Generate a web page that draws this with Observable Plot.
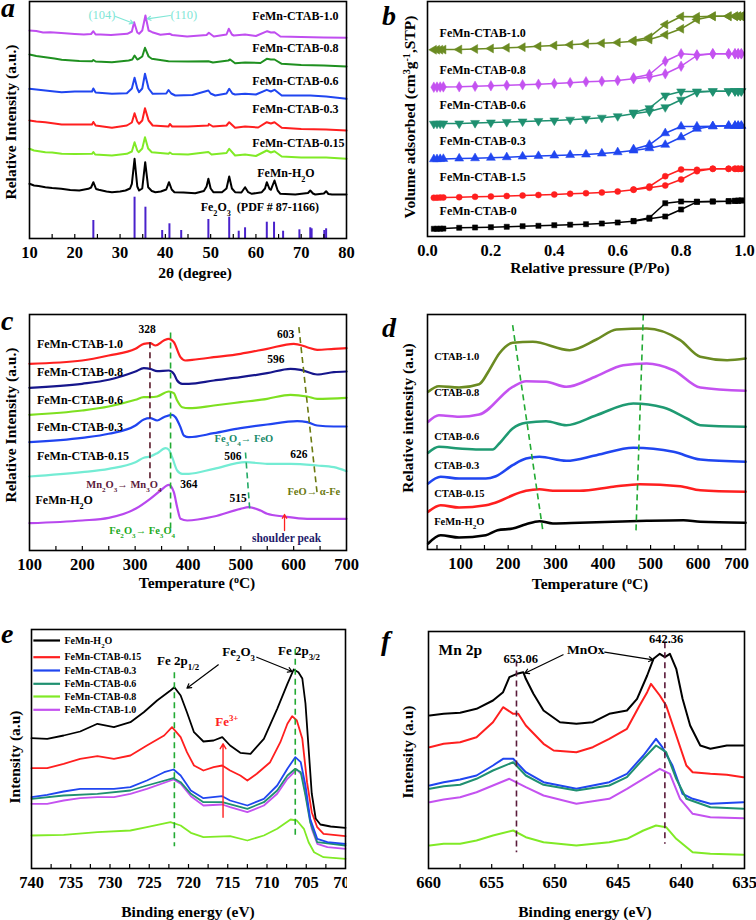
<!DOCTYPE html>
<html><head><meta charset="utf-8">
<script src="https://cdn.jsdelivr.net/npm/d3@7"></script>
<script src="https://cdn.jsdelivr.net/npm/@observablehq/plot@0.6"></script>
<style>
body{margin:0;background:#fff;}
#root{position:relative;width:756px;height:920px;overflow:hidden;background:#fff;font-family:"Liberation Serif","Times New Roman",serif;}
.lbl{position:absolute;font-weight:bold;font-size:15.5px;white-space:nowrap;line-height:1;color:#000;}
.ylbl{transform:translate(-50%,-50%) rotate(-90deg);}
.xlbl{transform:translate(-50%,-50%);}
.letter{position:absolute;font-weight:bold;font-style:italic;font-size:28px;line-height:0.5;color:#000;}
sup{font-size:65%;vertical-align:0.55em;line-height:0;}
</style></head>
<body><div id="root"></div>
<script>
// ---------------- DATA ----------------
// (a) XRD, 2θ vs intensity (arbitrary, stacked)
const aTicks=[10,20,30,40,50,60,70,80];
const xrdH2O=[[10,54.7],[11,53],[12,52.5],[13.5,51.3],[15,50.5],[17,49.7],[19,48.5],[21,48],[23,49.7],[23.6,51],[24.1,56.3],[24.7,49.5],[25.3,48.7],[27,47],[28.2,46.3],[30,47],[31.2,48],[32.2,50],[32.6,54.7],[33.2,79.7],[33.8,52],[34.2,48],[34.9,50],[35.55,76.3],[36.2,51.3],[37,47.5],[37.8,46.3],[39,47],[40.2,49],[40.8,56.3],[41.4,49],[42,46.3],[44,46],[46.6,45.3],[48.5,47.5],[49.1,52],[49.5,59.7],[50,50],[50.6,46.3],[52.5,46.3],[53.5,50],[54.1,62],[54.7,50],[55.4,46.3],[56.8,46],[57.6,51.3],[58.3,46.3],[59.1,44.7],[61.3,46.3],[62,50],[62.4,56.3],[63,49.5],[63.3,48.7],[64.1,58],[64.8,48],[65.4,44.7],[68.7,44],[71.5,45.5],[72,48],[72.6,45],[73.1,44],[75,45],[75.5,47.3],[76,44.5],[76.8,44],[80,44]];
const xrd015=[[10,89.7],[11,88],[13.5,86.3],[15,86],[17.1,84.7],[20,84.5],[23.8,84.7],[24.1,86.5],[24.5,84],[28.2,83],[31.5,84.7],[32.6,87],[33.2,96.3],[33.8,88],[34.1,86.3],[34.9,90],[35.5,101.3],[36.2,90],[37,86.3],[40.7,84.7],[41,86],[41.5,84.5],[45,84],[49.5,86.5],[50.2,84],[53.5,85.5],[54.1,89.7],[55.4,83],[57.6,84],[60,82.5],[62.4,88],[63.3,86],[64.1,87.3],[65.7,82],[70,81],[75.5,81],[80,79.7]];
const xrd03=[[10,118],[11.5,117],[13.5,116.3],[15.5,115],[17.1,114],[20,114],[23.8,114],[24.1,116.5],[24.6,113],[28.2,110.7],[31.5,113],[32.6,116],[33.2,125.3],[33.8,117],[34.2,114.7],[34.9,118],[35.5,130.3],[36.3,118],[37.2,113],[40.7,112],[41,114.5],[41.5,112],[45,112],[49.5,113],[49.6,114.5],[50.5,112],[53.5,113],[54.1,116.3],[55.4,110.7],[57.6,112],[60.5,111],[62.4,116.3],[63.3,115],[64.1,116.3],[65.7,110.7],[70,109.5],[75.5,109],[80,108]];
const xrd06=[[10,149.7],[11.5,149],[13.5,148],[15.5,147],[17.1,146.3],[20,147],[23.8,147],[24.1,150],[24.6,146],[28.2,144.7],[31.5,145.3],[32.6,150],[33.2,160.7],[33.8,150],[34.2,146.3],[34.9,150],[35.5,164.7],[36.3,150],[37.2,144.7],[40.2,145],[40.7,148.5],[41.3,145],[42.2,143],[46,143.5],[49.5,148],[50,145],[51,143],[53.5,145],[54.1,149.7],[54.8,145],[55.4,144],[57.6,144.7],[60,144],[62.4,148.7],[63.3,147],[64.1,148.7],[65.7,143],[72,143],[75.5,142],[76.5,141.5],[80,139.7]];
const xrd08=[[10,184],[11.5,182.5],[13.5,181.3],[15.5,180],[17.1,178.7],[21,177.5],[23.8,177.3],[24.1,178.5],[24.6,177],[28.2,176.3],[31.9,178],[32.7,179],[33.2,183],[33.8,179],[34.1,179.7],[34.9,182],[35.5,190.7],[36.3,182],[37,179.7],[40.7,177.3],[45,177],[49.5,177.3],[50.5,176],[53.9,178],[54.3,179],[55.4,175.3],[57.6,176],[61,175.5],[62.4,179.7],[63.3,179],[64.1,179],[65.7,174.7],[70,173.5],[75,173],[80,172]];
const xrd10=[[10,208],[11.5,207.5],[13,206],[14.6,206.3],[17,205.5],[20,204.5],[22,204],[23.6,204.5],[24.1,207.3],[24.6,204],[25.7,204],[28,203.5],[31.6,204.7],[32.6,207],[33.1,216.3],[33.8,206],[34.2,204.7],[34.9,208],[35.6,223],[36.3,208],[37.1,206.3],[38.9,203.7],[41,204.7],[41.5,203.5],[44.8,202],[49.1,203.5],[49.6,205.7],[50.7,202],[53.5,204],[54,209.7],[54.7,204],[55.1,203],[57.6,204],[60,202.5],[62.5,207.3],[63.3,206],[64.1,206.3],[65.4,202],[70,201.5],[75,201],[80,200.7]];
const pdfLines=[[24.1,18],[33.2,41.3],[35.6,31.3],[39.3,8],[40.9,14.7],[43.5,8],[49.5,19],[54.1,21.3],[56.2,7.3],[57.6,10.7],[62.4,16.3],[64.0,16.3],[66.0,7.3],[69.6,8.7],[72.0,10.7],[72.3,9.7],[75.1,8],[75.5,9.7]];
const aSeries=[["FeMn-CTAB-1.0",xrd10,"#c04ef0"],["FeMn-CTAB-0.8",xrd08,"#1f9020"],["FeMn-CTAB-0.6",xrd06,"#2046f0"],["FeMn-CTAB-0.3",xrd03,"#ff1f1f"],["FeMn-CTAB-0.15",xrd015,"#80ea26"],["FeMn-H_{2}O",xrdH2O,"#000000"]];
const aLabels=[{t:"FeMn-CTAB-1.0",x:59.2,y:222},{t:"FeMn-CTAB-0.8",x:59.2,y:190.3},{t:"FeMn-CTAB-0.6",x:59.2,y:157.3},{t:"FeMn-CTAB-0.3",x:59.2,y:129.7},{t:"FeMn-CTAB-0.15",x:59.2,y:95.3},{t:"FeMn-H_{2}O",x:60.3,y:65.3},{t:"Fe_{2}O_{3}\u00a0\u00a0(PDF # 87-1166)",x:47.8,y:31.3}];
const aPlanes=[{t:"(104)",x:26.0,y:224},{t:"(110)",x:44.1,y:224}];
const aPlaneArrows=[{x1:29.0,y1:222,x2:32.9,y2:215.3},{x1:41.1,y1:223,x2:36.0,y2:219.7}];

// (b) N2 isotherms
const bTicks=[0,0.2,0.4,0.6,0.8,1.0];
const bPAds=[0.02,0.03,0.04,0.05,0.1,0.15,0.2,0.25,0.3,0.35,0.4,0.45,0.5,0.55,0.6,0.65,0.7,0.75,0.8,0.85,0.9,0.95,0.97,0.98,0.99];
const bPDes=[0.99,0.98,0.97,0.95,0.9,0.85,0.8,0.75,0.7,0.65];
const bAds0=[7.7,7.7,7.8,7.9,8.7,9.0,9.3,9.7,10.3,10.7,11.3,11.8,12.3,13.0,14.0,15.3,17.7,20.0,27.0,34.7,35.0,35.3,35.6,35.8,36.0];
const bDes0=[36.0,35.8,35.6,35.3,35.0,34.7,35.0,33.3,18.7,15.5];
const bAds15=[38.7,38.8,38.9,39.0,39.3,39.7,40.0,40.5,41.0,41.5,42.0,42.7,43.3,44.0,45.0,46.7,48.7,51.0,57.0,65.3,67.7,67.7,67.7,67.7,67.7];
const bDes15=[67.7,67.7,67.7,67.7,67.7,66.7,67.0,60.3,50.0,47.0];
const bAds03=[77.3,77.4,77.5,77.6,78.0,78.3,78.7,79.3,80.0,80.5,81.0,81.5,82.0,83.0,84.3,86.0,88.3,91.7,99.3,107.7,110.3,110.7,110.7,110.7,110.7];
const bDes03=[110.7,110.7,110.7,110.7,110.3,110.0,110.0,103.3,91.7,87.3];
const bAds06=[112.7,112.8,112.8,112.9,113.0,113.5,114.0,114.5,115.0,115.5,116.0,116.8,117.7,118.8,120.3,122.7,125.0,129.3,136.7,144.3,145.3,145.3,145.3,145.3,145.3];
const bDes06=[145.3,145.3,145.3,145.3,145.3,145.0,145.0,141.0,128.3,124.0];
const bAds08=[149.3,149.4,149.5,149.6,149.7,150.2,150.7,151.2,151.7,152.3,153.0,153.8,154.7,155.3,156.0,157.7,159.3,162.7,170.3,181.0,182.7,182.7,182.7,182.7,182.7];
const bDes08=[182.7,182.7,182.7,182.7,182.7,181.7,182.7,175.3,162.0,158.7];
const bAds10=[186.7,186.8,186.8,186.9,187.0,187.5,188.0,188.7,189.3,190.2,191.0,191.8,192.7,193.3,194.0,195.3,197.0,201.7,207.7,217.0,220.3,220.3,220.3,220.3,220.3];
const bDes10=[220.3,220.3,220.3,220.3,220.3,219.7,220.0,212.0,199.3,196.0];
const bLabels=[{t:"FeMn-CTAB-1.0",y:203},{t:"FeMn-CTAB-0.8",y:166},{t:"FeMn-CTAB-0.6",y:131},{t:"FeMn-CTAB-0.3",y:95},{t:"FeMn-CTAB-1.5",y:59},{t:"FeMn-CTAB-0",y:25}];

// (c) H2-TPR
const cTicks=[100,200,300,400,500,600,700];
const cH2O=[[100,27.3],[199.6,30],[250,32.7],[300.6,41.7],[328.4,51.7],[348,60],[363.7,65.7],[373.2,58.3],[379.5,43.3],[385.8,31.7],[398.4,30],[448.9,34],[499.4,41.7],[515.1,43.3],[537.2,40],[549.8,36.7],[581.4,34],[625.5,31.7],[700,31.7]];
const c015=[[100,74],[199.6,78.3],[250,81.7],[300.6,88.3],[316.4,92.7],[328.4,94],[341.6,97.3],[357.4,102.3],[363.7,100.7],[370,93.3],[379.5,80],[389,76.7],[401.6,76.7],[448.9,81.7],[508.8,88.3],[549.8,86.7],[594,86.7],[644.5,85],[676,83.3],[700,79.3]];
const c03=[[100,108.3],[199.6,112.7],[250,116.7],[300.6,125],[316.4,131],[328.4,132.3],[341.6,130],[354.2,133.3],[370,135.7],[376.3,133.3],[385.8,123.3],[392.1,115],[401.6,113.3],[448.9,117.3],[499.4,122.3],[549.8,126],[606.6,129.3],[625.5,128.3],[644.5,125],[676,124],[700,124]];
const c06=[[100,135.7],[199.6,140],[250,144],[300.6,150.7],[316.4,153.3],[328.4,153.3],[341.6,154],[363.7,159],[373.2,157.3],[379.5,150],[389,143.3],[401.6,142.3],[448.9,145],[499.4,148.3],[549.8,151.7],[594,155.7],[625.5,154],[644.5,151.7],[700,152.7]];
const c08=[[100,162.7],[199.6,166.7],[250,170.7],[300.6,179],[316.4,182.3],[328.4,181.7],[341.6,179.3],[363.7,180],[373.2,176.7],[379.5,170],[389,166.7],[401.6,166.7],[448.9,170],[499.4,173.3],[549.8,177.3],[594,181.7],[613,180.7],[644.5,176],[676,178.3],[700,179]];
const c10=[[100,186.7],[199.6,190],[250,195],[300.6,201.7],[316.4,206.7],[328.4,207.3],[338.5,205],[354.2,210],[363.7,211.7],[373.2,208.3],[385.8,193.3],[395.2,190],[407.9,190.7],[448.9,193.3],[499.4,196.7],[549.8,201.7],[600.3,206.7],[625.5,203.3],[644.5,200.7],[676,201.7],[700,202.3]];
const cSeries=[[c10,"#ff2020"],[c08,"#16168c"],[c06,"#7ee020"],[c03,"#2044f0"],[c015,"#74ecd4"],[cH2O,"#b848ee"]];
const cLabels=[{t:"FeMn-CTAB-1.0",x:114,y:206.7},{t:"FeMn-CTAB-0.8",x:114,y:178.3},{t:"FeMn-CTAB-0.6",x:114,y:150},{t:"FeMn-CTAB-0.3",x:114,y:123.3},{t:"FeMn-CTAB-0.15",x:114,y:94},{t:"FeMn-H_{2}O",x:111.4,y:50}];
const cPeaks=[{t:"328",x:322.7,y:220.7},{t:"603",x:584.6,y:215.7},{t:"596",x:566.3,y:190.7},{t:"506",x:484.9,y:94},{t:"626",x:609.8,y:96},{t:"364",x:401.6,y:65.7},{t:"515",x:495,y:51.7}];
const cNotes=[{t:"Fe_{3}O_{4}→ FeO",x:505.7,y:111.7,c:"#1a8a6a"},{t:"Mn_{2}O_{3}→ Mn_{3}O_{4}",x:278.6,y:65.7,c:"#5c1a3c"},{t:"FeO→ α-Fe",x:638.2,y:59,c:"#6b7a10"},{t:"Fe_{2}O_{3}→ Fe_{3}O_{4}",x:313.3,y:20,c:"#22aa22"}];
const cGuides=[{x1:328,y1:208.3,x2:328,y2:70,c:"#5a1a2a"},{x1:367,y1:218,x2:367,y2:21.7,c:"#22aa33"},{x1:508.8,y1:98,x2:517,y2:40,c:"#22aa66"},{x1:609.8,y1:223.3,x2:644.5,y2:56.7,c:"#6b7a10"}];

// (d) O2-TPD
const dTicks=[100,200,300,400,500,600,700];
const dH2O=[[31.5,6],[57.6,14.3],[96.5,12],[152.9,14.3],[177.6,19.3],[209.4,21],[237.6,25.3],[265.9,28.3],[294.1,26],[350.6,26.7],[421.2,27.7],[491.8,28.7],[569.4,29.3],[604.7,27.7],[700,26.7]];
const d015=[[31.5,37.7],[57.6,44.3],[96.5,42],[152.9,44.3],[181.2,48.3],[209.4,54.3],[237.6,58.7],[265.9,60.3],[294.1,58.7],[350.6,58.7],[421.2,62.7],[477.6,65.3],[562.4,63.3],[604.7,59.3],[700,57.7]];
const d03=[[31.5,66],[57.6,72.7],[96.5,71],[152.9,71],[174.1,73.3],[209.4,84.3],[237.6,91],[265.9,92.7],[322.4,88.7],[385.9,94.3],[463.5,101.7],[548.2,97.7],[604.7,90],[700,87.7]];
const d06=[[31.5,96.7],[54,102.7],[96.5,101],[138.8,100],[167.1,100],[181.2,106],[209.4,121],[237.6,126.7],[280,128.3],[322.4,124.3],[385.9,134.3],[463.5,146],[527.1,142],[576.5,131],[604.7,124.3],[700,122.7]];
const d08=[[31.5,127.7],[54,134.3],[96.5,132.7],[138.8,135],[209.4,162.7],[237.6,168.3],[280,167.7],[322.4,162.7],[385.9,173.3],[442.4,184.3],[491.8,186],[548.2,179.3],[604.7,162],[700,158.7]];
const d10=[[31.5,157.7],[54,163.3],[96.5,162],[138.8,165.3],[160,179.3],[181.2,196],[209.4,206.7],[251.8,207.7],[329.4,199.3],[385.9,210],[428.2,220],[491.8,221],[562.4,209.3],[604.7,192.7],[661.2,189.3],[700,191]];
const dSeries=[[d10,"#6b8b22"],[d08,"#c452f0"],[d06,"#1f9a72"],[d03,"#2046f0"],[d015,"#ff1f1f"],[dH2O,"#000000"]];
const dLabels=[{t:"CTAB-1.0",y:193.3},{t:"CTAB-0.8",y:157},{t:"CTAB-0.6",y:113.3},{t:"CTAB-0.3",y:83.7},{t:"CTAB-0.15",y:56},{t:"FeMn-H_{2}O",y:27.7}];
const dGuides=[{x1:209.4,y1:224.3,x2:272.9,y2:19.3},{x1:484.7,y1:235,x2:469.2,y2:17.7}];

// (e) XPS Fe 2p
const eTicks=[740,735,730,725,720,715,710,705,700];
const eH2O=[[740,130.3],[738,129.7],[735.9,133],[733.8,137],[731.6,144.7],[729.5,141.3],[727.4,146.3],[725.7,156.3],[724,168],[722.3,178],[721.8,181.3],[721,173],[720.2,156.3],[719.3,136.3],[718.1,127],[716.8,128],[715.7,131.3],[714.7,123],[713.4,115.7],[712.1,114.7],[710.4,129.7],[708.7,159.7],[707.4,184.7],[706.6,199],[706,196.3],[705.5,190],[705.1,165],[704.7,120],[704.3,75],[703.8,50],[703.2,44],[701.9,42],[700,40.7]];
const e015=[[740,100.3],[738,100.3],[735.9,104.7],[733.8,109.7],[731.6,112.3],[729.5,109.7],[727.4,113],[725.3,123],[723.1,133],[722.1,141.3],[721,131.3],[720.2,116.3],[719.3,103],[718.1,98],[716.8,101.3],[715.7,103],[714.7,98],[713.4,93],[712.5,88],[711.3,94.7],[709.6,106.3],[708.3,126.3],[707.4,144.7],[706.8,152.3],[706.2,148],[705.5,129.7],[704.9,86.3],[704.3,56.3],[703.6,41.3],[702.8,34.7],[700,32.3]];
const e03=[[740,71.3],[738,73.7],[735.9,77],[733.8,79.7],[731.6,79.7],[729.5,79.7],[727.4,81.3],[725.3,88],[723.1,96.3],[721.9,99],[721,93],[719.7,78],[718.1,70.3],[715.7,72.3],[714.7,68],[712.5,63],[710.4,69.7],[708.7,83],[707.4,99.7],[706.4,111.3],[705.7,106.3],[705.1,83],[704.5,49.7],[703.6,29.7],[702.3,26.3],[700,24.7]];
const e06=[[740,69.7],[735.9,73],[731.6,74.7],[727.4,78],[725.3,83],[721.9,90.3],[721,86.3],[719.7,74.7],[718.1,66.3],[715.7,66.3],[712.5,59.7],[710.4,66.3],[708.7,78],[707.4,93],[706.4,99.7],[705.7,96.3],[705.1,73],[704.5,46.3],[703.6,26.3],[700,23]];
const e08=[[740,33],[735.9,33.7],[731.6,36.3],[727.4,38],[725.3,41.3],[722.3,46.3],[721,43],[719.7,35.7],[718.1,31.3],[714.7,32.3],[712.5,28],[710.4,33],[708.7,39.7],[707,49],[706.2,48],[705.3,39.7],[704.7,26.3],[704,16.3],[702.8,11.3],[700,9.7]];
const e10=[[740,64.7],[738,64.7],[735.9,68],[733.8,70.3],[731.6,71.3],[729.5,71.3],[727.4,74.7],[725.3,79.7],[721.9,89],[721,84.7],[719.7,72.3],[718.1,63],[715.7,64],[714.7,61.3],[712.5,56.3],[710.4,63],[708.7,74.7],[707.4,89.7],[706.2,99],[705.5,93],[704.9,66.3],[704.3,39.7],[703.6,24.7],[702.3,21.3],[700,19.7]];
const eSeries=[["FeMn-H_{2}O",eH2O,"#000000"],["FeMn-CTAB-0.15",e015,"#ff1f1f"],["FeMn-CTAB-0.3",e03,"#2046f0"],["FeMn-CTAB-0.6",e06,"#1f9070"],["FeMn-CTAB-0.8",e08,"#80ea26"],["FeMn-CTAB-1.0",e10,"#c452f0"]];
const eLegendY=[228,211.3,198,184.7,172,158.7];
const eGuides=[{x1:721.8,y1:196.3,x2:721.8,y2:22.3},{x1:706.4,y1:219.7,x2:706.4,y2:33}];
const eNotes=[{t:"Fe 2p_{1/2}",x:724.0,y:208},{t:"Fe_{2}O_{3}",x:715.7,y:216.3},{t:"Fe 2p_{3/2}",x:708.6,y:218}];
const eArrows=[{x1:716.2,y1:203.7,x2:720.2,y2:180.3},{x1:711.3,y1:211.3,x2:706.8,y2:197}];
const eFe3=[{t:"Fe^{3+}",x:716.6,y:146.3}];
const eFe3Arrow=[{x1:715.6,y1:51.3,x2:715.6,y2:124.7}];

// (f) XPS Mn 2p
const fTicks=[660,655,650,645,640,635];
const fH2O=[[659.9,153],[658.8,154.7],[657.5,155.7],[656.2,159.7],[654.9,168],[654.1,176.3],[653.6,191.3],[653,194.7],[652.5,196.3],[652.3,189.7],[651.7,174.7],[650.9,158],[649.6,146.3],[648.3,144.7],[647,146.3],[645.7,154.7],[644.3,158],[643.5,169.7],[642.7,193],[642.2,209.7],[641.7,214.7],[641.3,211.3],[640.9,214.7],[640.4,199.7],[639.9,169.7],[639.3,143],[638.5,123],[637.7,119.7],[636.4,123],[635.1,123]];
const f015=[[659.9,121.3],[658.8,124.7],[657.5,126.3],[656.2,131.3],[654.9,146.3],[654.1,161.3],[653.3,154.7],[652.9,154.7],[652.3,143],[650.9,124.7],[650.1,118],[648.3,116.3],[647,121.3],[645.7,129.7],[644.3,139.7],[643.3,163],[642.7,176.3],[642.4,184.7],[641.7,173],[641.2,163],[640.4,133],[639.6,103],[639.1,96.3],[637.7,94.7],[636.4,93.7],[635.1,91.3]];
const f03=[[659.9,83],[658.8,86.3],[657.5,89],[656.2,93],[654.9,103],[654.1,109.7],[653.3,109.7],[652.3,96.3],[650.9,86.3],[648.3,79.7],[645.7,86.3],[644.3,94.7],[643,113],[642,129.7],[641.5,121.3],[640.7,103],[639.9,74.7],[639.1,69.7],[637.7,64.7],[635.1,66.3]];
const f06=[[659.9,79.7],[658.8,82.3],[657.5,83.7],[656.2,89.7],[654.9,98],[653.3,106.3],[652.3,93],[650.9,83.7],[648.3,78],[645.7,83],[644.3,91.3],[643,109.7],[642,123],[641.2,116.3],[640.4,89.7],[639.6,69.7],[637.7,61.3],[635.1,59.7]];
const f08=[[659.9,23],[658.8,24.7],[657.5,24.7],[656.2,28],[654.9,33],[653.3,38],[652.3,31.3],[650.9,26.3],[648.3,23],[645.7,26.3],[644.3,29.7],[643,38],[642,43],[641.2,41.3],[640.4,29.7],[639.1,16.3],[637.7,14.7],[635.1,13.7]];
const f10=[[659.9,66.3],[658.8,69],[657.5,71.3],[656.2,76.3],[654.9,83],[653.6,89.7],[652.3,81.3],[650.9,73],[648.3,64.7],[645.7,69.7],[644.3,79.7],[643,89.7],[641.7,99.7],[640.9,94.7],[640.1,69.7],[639.1,54.7],[637.7,51.3],[635.1,50.3]];
const fSeries=[[f08,"#80ea26"],[f10,"#c452f0"],[f03,"#2046f0"],[f06,"#1f9070"],[f015,"#ff1f1f"],[fH2O,"#000000"]];
const fGuides=[{x1:653.04,y1:208,x2:653.04,y2:16.3},{x1:641.3,y1:226.3,x2:641.3,y2:24.7}];
const fNotes=[{t:"653.06",x:652.7,y:209.7,s:12.5},{t:"642.36",x:641.2,y:229.7,s:12.5},{t:"MnOx",x:647.55,y:219,s:13.5}];
const fArrows=[{x1:649.35,y1:213.7,x2:652.38,y2:195.3},{x1:646.06,y1:216.3,x2:642.23,y2:208.7}];

// ---------------- DRAWING ----------------
const F='"Liberation Serif","Times New Roman",serif';
const root=document.getElementById('root');
const SVGNS='http://www.w3.org/2000/svg';
function fixSub(svg){
  svg.querySelectorAll('text').forEach(t=>{
    if(t.querySelector('tspan')) return;
    const s=t.textContent; if(!/[_^]\{/.test(s)) return;
    while(t.firstChild) t.removeChild(t.firstChild);
    const re=/([_^])\{([^}]*)\}/g; let last=0,m;
    const add=(str,shift)=>{const ts=document.createElementNS(SVGNS,'tspan');ts.textContent=str;if(shift){ts.setAttribute('baseline-shift',shift);ts.setAttribute('font-size','68%');}t.appendChild(ts);};
    while((m=re.exec(s))){ if(m.index>last) add(s.slice(last,m.index)); add(m[2],m[1]==='_'?'sub':'super'); last=re.lastIndex; }
    if(last<s.length) add(s.slice(last));
  });
}
function place(svg,left,top){svg.style.position='absolute';svg.style.left=left+'px';svg.style.top=top+'px';fixSub(svg);root.appendChild(svg);}
function html(cls,text,x,y,extra){const d=document.createElement('div');d.className=cls;d.innerHTML=text;d.style.left=x+'px';d.style.top=y+'px';if(extra)Object.assign(d.style,extra);root.appendChild(d);}
function base(w,h,m,xcfg,H){
  return {width:w,height:h,marginLeft:m[0],marginRight:m[1],marginTop:m[2],marginBottom:m[3],
    x:Object.assign({tickSize:0,tickPadding:8,label:null},xcfg),
    y:{domain:[0,H],axis:null},
    style:{fontFamily:F,fontSize:'16.5px',fontWeight:'bold',color:'#000',background:'transparent'}};
}
const L=(data,stroke,strokeWidth,curve)=>Plot.line(data,{x:d=>d[0],y:d=>d[1],stroke,strokeWidth,curve:curve||'linear',strokeLinejoin:'round'});
const TX=(data,o)=>Plot.text(data,Object.assign({x:'x',y:'y',text:'t',fontFamily:F,fontWeight:'bold',fill:'#000'},o));
const frame=()=>Plot.frame({stroke:'#000',strokeWidth:1.6});
const inTicks=(vals,H)=>Plot.ruleX(vals,{x:d=>d,insetTop:H-4,stroke:'#000',strokeWidth:1.2});
const dashes=(data,o)=>Plot.link(data,Object.assign({x1:'x1',y1:'y1',x2:'x2',y2:'y2',strokeWidth:1.6,strokeDasharray:'6,4'},o));

// Panel a
{
  const H=237;
  const o=base(378,290,[29,32,1,52],{domain:[10,80],ticks:aTicks},H);
  o.marks=[
    Plot.ruleX(pdfLines,{x:d=>d[0],y1:0,y2:d=>d[1],stroke:'#4a22cc',strokeWidth:2}),
    ...aSeries.map(s=>L(s[1],s[2],2)),
    TX(aLabels,{textAnchor:'start',fontSize:12}),
    TX(aPlanes,{fill:'#7fe6d6',fontWeight:'normal',fontSize:12.5}),
    Plot.arrow(aPlaneArrows,{x1:'x1',y1:'y1',x2:'x2',y2:'y2',stroke:'#7fe6d6',strokeWidth:1.2,headLength:5}),
    inTicks(d3.range(15,80,5),H),
    frame()
  ];
  place(Plot.plot(o),0,0);
}
// Panel b
{
  const H=235;
  const o=base(378,290,[49,12,1,54],{domain:[0,1],ticks:bTicks,tickFormat:d3.format('.1f')},H);
  const tri=(ang)=>({draw(ctx,size){const y=-Math.sqrt(size/(Math.sqrt(3)*3));const pts=[[0,y*2],[-Math.sqrt(3)*y,-y],[Math.sqrt(3)*y,-y]];const c=Math.cos(ang),s=Math.sin(ang);pts.forEach(([px,py],i)=>{const X=px*c-py*s,Y=px*s+py*c;if(i)ctx.lineTo(X,Y);else ctx.moveTo(X,Y);});ctx.closePath();}});
  const sets=[[bAds0,bDes0,'#000000','square',2.9],[bAds15,bDes15,'#ff1f1f','circle',3],[bAds03,bDes03,'#2046f0','triangle',3.3],[bAds06,bDes06,'#1f9070',tri(Math.PI),3.3],[bAds08,bDes08,'#c452f0','diamond',3.2],[bAds10,bDes10,'#6b8b22',tri(-Math.PI/2),3.3]];
  const marks=[];
  sets.forEach(([ads,des,col,sym,r])=>{
    const A=d3.zip(bPAds,ads), D=d3.zip(bPDes,des);
    marks.push(L(A,col,1.5),L(D,col,1.5));
    marks.push(Plot.dot(A.concat(D),{x:d=>d[0],y:d=>d[1],symbol:sym,fill:col,stroke:col,strokeWidth:0.5,r}));
  });
  marks.push(TX(bLabels,{x:()=>0.038,textAnchor:'start',fontSize:12}));
  marks.push(frame());
  o.marks=marks;
  place(Plot.plot(o),378,0);
}
// Panel c
{
  const H=236;
  const o=base(378,290,[29,32,14,40],{domain:[100,700],ticks:cTicks},H);
  o.marks=[
    ...cSeries.map(s=>L(s[0],s[1],2.2,'monotone-x')),
    ...cGuides.map(g=>dashes([g],{stroke:g.c})),
    TX(cLabels,{textAnchor:'start',fontSize:12}),
    TX(cPeaks,{fontSize:11.5}),
    TX(cNotes,{fill:d=>d.c,fontSize:10.5,fontWeight:'bold'}),
    TX([{t:"shoulder peak",x:586.5,y:12.3}],{fill:'#1e1a6a',fontSize:11.5}),
    Plot.arrow([{x1:582.7,y1:20,x2:582.7,y2:36}],{x1:'x1',y1:'y1',x2:'x2',y2:'y2',stroke:'#ff2020',strokeWidth:1.3,headLength:5}),
    inTicks(d3.range(150,700,50),H),
    frame()
  ];
  place(Plot.plot(o),0,300);
}
// Panel d
{
  const H=235;
  const o=base(378,290,[49,11,14,41],{domain:[30,700],ticks:dTicks},H);
  o.marks=[
    ...dSeries.map(s=>L(s[0],s[1],2.6,'monotone-x')),
    dashes(dGuides,{stroke:'#22aa33'}),
    TX(dLabels,{x:()=>44,textAnchor:'start',fontSize:10.5}),
    inTicks(d3.range(50,700,50),H),
    frame()
  ];
  const svg=Plot.plot(o);
  // last tick label sits inside the page edge, as in the reference
  svg.querySelectorAll('text').forEach(t=>{ if(t.textContent==='700' && !t.querySelector('tspan')) t.setAttribute('dx','-9'); });
  place(svg,378,300);
}
// Panel e
{
  const H=239;
  const o=base(347,300,[31,2,29,32],{domain:[740,700],ticks:eTicks},H);
  const leg=eSeries.map((s,i)=>({t:s[0],c:s[2],y:eLegendY[i]}));
  o.marks=[
    ...eSeries.slice().reverse().map(s=>L(s[1],s[2],1.8)),
    dashes(eGuides,{stroke:'#22aa33'}),
    ...leg.map(l=>Plot.ruleY([l],{y:'y',x1:739.7,x2:736.3,stroke:l.c,strokeWidth:2.2})),
    TX(leg,{x:()=>735.8,textAnchor:'start',fontSize:10}),
    TX(eNotes,{textAnchor:'start',fontSize:13}),
    Plot.arrow(eArrows,{x1:'x1',y1:'y1',x2:'x2',y2:'y2',stroke:'#000',strokeWidth:1.2,headLength:6}),
    TX(eFe3,{textAnchor:'start',fontSize:13,fill:'#ff2020'}),
    Plot.arrow(eFe3Arrow,{x1:'x1',y1:'y1',x2:'x2',y2:'y2',stroke:'#ff2020',strokeWidth:1.4,headLength:6}),
    inTicks(d3.range(702.5,740,2.5),H),
    frame()
  ];
  place(Plot.plot(o),0,600);
}
// Panel f
{
  const H=237;
  const o=base(378,300,[50,12,31,32],{domain:[660,635],ticks:fTicks},H);
  o.marks=[
    ...fSeries.map(s=>L(s[0],s[1],2)),
    dashes(fGuides,{stroke:'#5a1a3a'}),
    TX([{t:"Mn 2p",x:659.2,y:218}],{textAnchor:'start',fontSize:15.5}),
    TX(fNotes,{fontSize:d=>d.s}),
    Plot.arrow(fArrows,{x1:'x1',y1:'y1',x2:'x2',y2:'y2',stroke:'#000',strokeWidth:1.2,headLength:6}),
    inTicks(d3.range(637.5,660,2.5),H),
    frame()
  ];
  place(Plot.plot(o),378,600);
}
// axis titles and panel letters
html('lbl xlbl','2θ (degree)',195,273);
html('lbl ylbl','Relative Intensity (a.u.)',11,122);
html('lbl xlbl','Relative pressure (P/Po)',590,268);
html('lbl ylbl','Volume adsorbed (cm<sup>3</sup>g<sup>-1</sup>,STP)',410,117);
html('lbl xlbl','Temperature (<sup>o</sup>C)',197,583);
html('lbl ylbl','Relative Intensity (a.u.)',11,425);
html('lbl xlbl','Temperature (<sup>o</sup>C)',590,584);
html('lbl ylbl','Relative intensity (a.u)',408,418);
html('lbl xlbl','Binding energy (eV)',188,912);
html('lbl ylbl','Intensity (a.u)',15,757);
html('lbl xlbl','Binding energy (eV)',585,912);
html('lbl ylbl','Intensity (a.u)',408,752);
html('letter','a',1,1);
html('letter','b',382,9);
html('letter','c',1,314);
html('letter','d',382,321);
html('letter','e',1,627);
html('letter','f',381,634);
</script></body></html>
